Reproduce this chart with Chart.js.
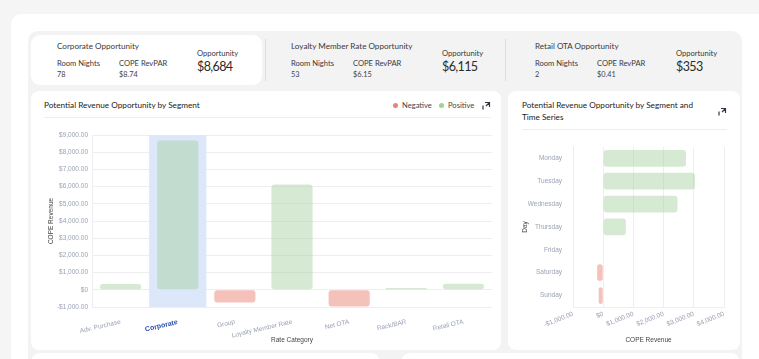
<!DOCTYPE html>
<html>
<head>
<meta charset="utf-8">
<script src="https://cdn.jsdelivr.net/npm/chart.js@4.4.0/dist/chart.umd.min.js"></script>
<style>
  body { margin: 0; width: 759px; height: 359px; overflow: hidden; background: #f5f5f5; font-family: Lato, 'Noto Sans', sans-serif; color: #333; }
  .abs { position: absolute; }
  .panel { left: 11px; top: 14px; width: 760px; height: 360px; background: #fff; border-radius: 10px 0 0 0; }
  .strip { left: 28px; top: 31px; width: 714px; height: 340px; background: #f3f3f3; border-radius: 10px; }
  .white { background: #fff; border-radius: 9px; }
  .kpi-title { font-size: 8.1px; color: #3a3a3a; white-space: nowrap; }
  .kpi-lbl { font-size: 7.6px; color: #3a3a3a; white-space: nowrap; }
  .kpi-val { font-size: 7.3px; color: #444; white-space: nowrap; }
  .kpi-big { font-size: 12.5px; letter-spacing: -0.6px; color: #2a2a2a; white-space: nowrap; }
  .sep { width: 1px; background: #ddd; }
  .card-title { font-size: 8.2px; color: #222; line-height: 12px; }
  .rule { height: 1px; background: #eee; }
  .legend { font-size: 7.6px; color: #444; white-space: nowrap; }
  .dot { display: inline-block; width: 5px; height: 5px; border-radius: 50%; margin-right: 4px; vertical-align: 0px; }
</style>
</head>
<body>
<div class="abs panel"></div>
<div class="abs strip"></div>

<!-- KPI cards -->
<div class="abs white" style="left:31px;top:35px;width:231px;height:50px;"></div>
<div class="abs kpi-title" style="left:57px;top:41px;">Corporate Opportunity</div>
<div class="abs kpi-lbl" style="left:57px;top:58px;">Room Nights</div>
<div class="abs kpi-val" style="left:57px;top:70px;">78</div>
<div class="abs kpi-lbl" style="left:119px;top:58px;">COPE RevPAR</div>
<div class="abs kpi-val" style="left:119px;top:70px;">$8.74</div>
<div class="abs kpi-lbl" style="left:197px;top:48px;">Opportunity</div>
<div class="abs kpi-big" style="left:197px;top:59px;">$8,684</div>

<div class="abs sep" style="left:265px;top:39px;height:42px;"></div>
<div class="abs kpi-title" style="left:291px;top:41px;">Loyalty Member Rate Opportunity</div>
<div class="abs kpi-lbl" style="left:291px;top:58px;">Room Nights</div>
<div class="abs kpi-val" style="left:291px;top:70px;">53</div>
<div class="abs kpi-lbl" style="left:353px;top:58px;">COPE RevPAR</div>
<div class="abs kpi-val" style="left:353px;top:70px;">$6.15</div>
<div class="abs kpi-lbl" style="left:442px;top:48px;">Opportunity</div>
<div class="abs kpi-big" style="left:442px;top:59px;">$6,115</div>

<div class="abs sep" style="left:505px;top:39px;height:42px;"></div>
<div class="abs kpi-title" style="left:535px;top:41px;">Retail OTA Opportunity</div>
<div class="abs kpi-lbl" style="left:535px;top:58px;">Room Nights</div>
<div class="abs kpi-val" style="left:535px;top:70px;">2</div>
<div class="abs kpi-lbl" style="left:597px;top:58px;">COPE RevPAR</div>
<div class="abs kpi-val" style="left:597px;top:70px;">$0.41</div>
<div class="abs kpi-lbl" style="left:676px;top:48px;">Opportunity</div>
<div class="abs kpi-big" style="left:676px;top:59px;">$353</div>

<!-- Chart cards -->
<div class="abs white" style="left:31px;top:91px;width:470px;height:259px;border-radius:8px;"></div>
<div class="abs card-title" style="left:44px;top:99px;">Potential Revenue Opportunity by Segment</div>
<div class="abs legend" style="left:393px;top:100px;"><span class="dot" style="background:#e8837a"></span>Negative</div>
<div class="abs legend" style="left:439px;top:100px;"><span class="dot" style="background:#9fd393"></span>Positive</div>
<svg class="abs" style="left:482px;top:101px" width="9" height="9" viewBox="0 0 9 9"><path d="M3 1.5h4.5v4.5M7.5 1.5L4 5M1 4.5v4" stroke="#334" stroke-width="1.2" fill="none"/></svg>
<div class="abs rule" style="left:44px;top:117px;width:447px;"></div>
<div class="abs" style="left:36px;top:125px;width:462px;height:223px;"><canvas id="segment-chart"></canvas></div>

<div class="abs white" style="left:508px;top:91px;width:232px;height:259px;border-radius:8px;"></div>
<div class="abs card-title" style="left:522px;top:99px;width:178px;">Potential Revenue Opportunity by Segment and Time Series</div>
<svg class="abs" style="left:718px;top:107px" width="9" height="9" viewBox="0 0 9 9"><path d="M3 1.5h4.5v4.5M7.5 1.5L4 5M1 4.5v4" stroke="#334" stroke-width="1.2" fill="none"/></svg>
<div class="abs rule" style="left:522px;top:129px;width:205px;"></div>
<div class="abs" style="left:512px;top:140px;width:224px;height:210px;"><canvas id="day-chart"></canvas></div>

<div class="abs white" style="left:31px;top:353px;width:349px;height:20px;"></div>
<div class="abs white" style="left:401px;top:353px;width:339px;height:20px;"></div>

<script>
// Data
const segments = ['Adv. Purchase', 'Corporate', 'Group', 'Loyalty Member Rate', 'Net OTA', 'Rack/BAR', 'Retail OTA'];
const segmentRevenue = [330, 8684, -740, 6115, -970, 100, 353];
const selectedSegment = 'Corporate';
const segmentAxis = [-1000, 9000, 1000]; // min, max, step

const days = ['Monday', 'Tuesday', 'Wednesday', 'Thursday', 'Friday', 'Saturday', 'Sunday'];
const dayRevenue = [2740, 3040, 2460, 750, 0, -200, -150];
const dayAxis = [-1000, 4000, 1000];

const POS = 'rgba(164, 206, 157, 0.45)';
const NEG = 'rgba(232, 120, 105, 0.45)';
const TICK = '#9aa2b4';
const GRID = '#eeeeee';
const FONT = 'Liberation Sans, Arial, sans-serif';

function money(v) {
    if (v === 0) return '$0';
    return (v < 0 ? '-' : '') + '$' + Math.abs(v).toLocaleString('en-US', { minimumFractionDigits: 2, maximumFractionDigits: 2 });
}

// shade the selected segment's column
const highlightBand = {
    id: 'highlightBand',
    beforeDatasetsDraw(chart) {
        const idx = segments.indexOf(selectedSegment);
        if (idx < 0) return;
        const x = chart.scales.x, y = chart.scales.y, c = chart.ctx;
        const w = x.width / segments.length;
        const cx = x.getPixelForValue(idx);
        c.save();
        c.fillStyle = '#dce7fa';
        c.fillRect(cx - w / 2, y.top, w, y.bottom - y.top);
        c.restore();
    }
};

Chart.defaults.font.family = FONT;
Chart.defaults.font.size = 6.5;

new Chart(document.getElementById('segment-chart'), {
    type: 'bar',
    data: {
        labels: segments,
        datasets: [{
            data: segmentRevenue,
            backgroundColor: segmentRevenue.map(v => v < 0 ? NEG : POS),
            borderRadius: 3,
            borderSkipped: false,
            barPercentage: 0.72,
            categoryPercentage: 1
        }]
    },
    options: {
        responsive: true,
        maintainAspectRatio: false,
        animation: false,
        layout: { padding: { top: 10, right: 6, left: 11, bottom: 0 } },
        plugins: { legend: { display: false }, tooltip: { enabled: false } },
        scales: {
            x: {
                grid: { display: false },
                border: { display: false },
                ticks: {
                    autoSkip: false,
                    minRotation: 13, maxRotation: 13,
                    color: ctx => segments[ctx.index] === selectedSegment ? '#2a4fb3' : TICK,
                    font: ctx => segments[ctx.index] === selectedSegment ? { weight: 'bold', size: 7 } : { size: 6.5 }
                },
                title: { display: true, text: 'Rate Category', color: '#444', font: { size: 6.5 }, padding: { top: 4 } },
                afterFit: s => { s.height = 41; }
            },
            y: {
                min: segmentAxis[0], max: segmentAxis[1],
                ticks: { stepSize: segmentAxis[2], color: TICK, callback: money, padding: 4 },
                grid: { color: GRID, drawTicks: false },
                border: { color: GRID },
                title: { display: true, text: 'COPE Revenue', color: '#444', font: { size: 6.5 }, padding: 0 },
                afterFit: s => { s.width = 45; }
            }
        }
    },
    plugins: [highlightBand]
});

new Chart(document.getElementById('day-chart'), {
    type: 'bar',
    data: {
        labels: days,
        datasets: [{
            data: dayRevenue,
            backgroundColor: dayRevenue.map(v => v < 0 ? NEG : POS),
            borderRadius: 3,
            borderSkipped: false,
            barPercentage: 0.73,
            categoryPercentage: 1
        }]
    },
    options: {
        indexAxis: 'y',
        responsive: true,
        maintainAspectRatio: false,
        animation: false,
        layout: { padding: { top: 3, right: 12, left: 9, bottom: 2 } },
        plugins: { legend: { display: false }, tooltip: { enabled: false } },
        scales: {
            x: {
                min: dayAxis[0], max: dayAxis[1],
                ticks: { autoSkip: false, stepSize: dayAxis[2], color: TICK, callback: money, minRotation: 22, maxRotation: 22 },
                grid: { color: GRID, drawTicks: false },
                border: { color: GRID },
                title: { display: true, text: 'COPE Revenue', color: '#444', font: { size: 6.5 }, padding: { top: 4 } },
                afterFit: s => { s.height = 41; }
            },
            y: {
                grid: { display: false },
                border: { color: GRID },
                ticks: { color: TICK, padding: 3 },
                title: { display: true, text: 'Day', color: '#444', font: { size: 6.5 }, padding: 0 },
                afterFit: s => { s.width = 52; }
            }
        }
    }
});
</script>
</body>
</html>
